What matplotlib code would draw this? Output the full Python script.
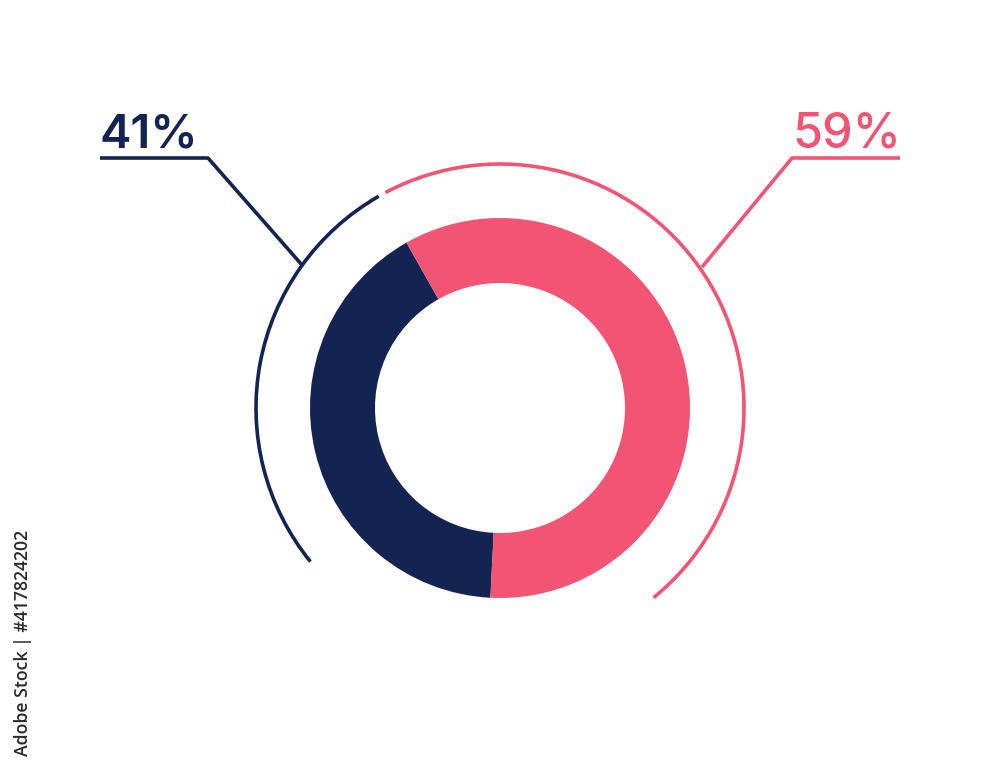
import matplotlib.pyplot as plt
from matplotlib.patches import Arc

labels = ['41%', '59%']
shares = [41, 59]
colors = ['#142452', '#f25574']

W, H = 1000, 767
cx, cy = 500, H - 408
r_out, ring = 190, 65
r_arc = 244

fig = plt.figure(figsize=(W / 100, H / 100), dpi=100)
ax = fig.add_axes([0, 0, 1, 1])
ax.set_xlim(0, W)
ax.set_ylim(0, H)
ax.set_aspect('equal')
ax.axis('off')

# donut
ax.pie(shares, colors=colors, startangle=119.5, counterclock=True,
       center=(cx, cy), radius=r_out,
       wedgeprops=dict(width=ring, linewidth=0))
ax.set_xlim(0, W)
ax.set_ylim(0, H)

# outer arcs
ax.add_patch(Arc((cx, cy), 2 * r_arc, 2 * r_arc, theta1=119.8, theta2=219,
                 color=colors[0], lw=2.6))
ax.add_patch(Arc((cx, cy), 2 * r_arc, 2 * r_arc, theta1=-51, theta2=118,
                 color=colors[1], lw=2.6))

# leader lines (pixel coords, y flipped)
ax.plot([302, 208, 100], [H - 265, H - 158, H - 158], color=colors[0], lw=2.6,
        solid_capstyle='butt')
ax.plot([702, 792, 900], [H - 267, H - 158, H - 158], color=colors[1], lw=2.6,
        solid_capstyle='butt')

ax.text(99, H - 148, labels[0], color=colors[0], fontsize=34, fontfamily='Inter',
        fontweight='semibold', ha='left', va='baseline')
ax.text(901, H - 148, labels[1], color=colors[1], fontsize=35, fontfamily='Inter',
        fontweight='medium', ha='right', va='baseline')

fig.text(0.023, 1 - 756 / H, 'Adobe Stock | #417824202', rotation=90,
         color='#2a2a2a', fontsize=12.7, fontfamily='Open Sans', fontweight='semibold',
         ha='center', va='bottom')

fig.savefig('out.png', dpi=100, facecolor='white')
